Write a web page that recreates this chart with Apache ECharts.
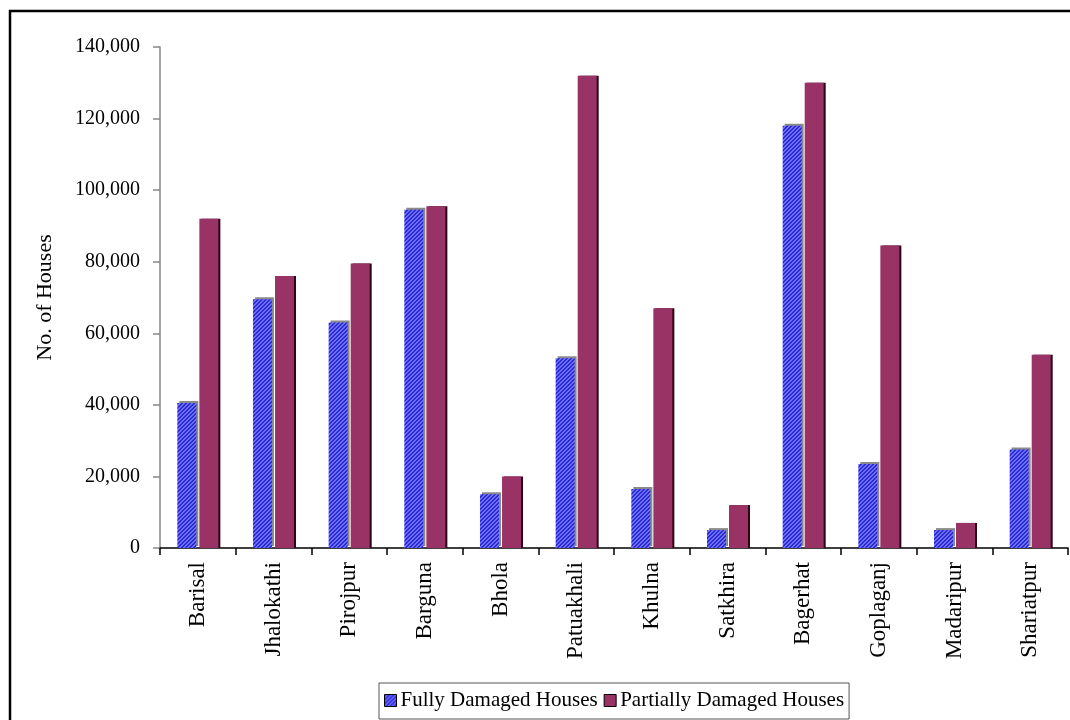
<!DOCTYPE html>
<html>
<head>
<meta charset="utf-8">
<script src="https://cdn.jsdelivr.net/npm/echarts@6/dist/echarts.min.js"></script>
<style>
  html, body { margin: 0; padding: 0; background: #fff; }
  #chart { width: 1070px; height: 720px; }
</style>
</head>
<body>
<div id="chart"></div>
<script>
// Districts and house damage counts
const districts = ['Barisal', 'Jhalokathi', 'Pirojpur', 'Barguna', 'Bhola', 'Patuakhali',
  'Khulna', 'Satkhira', 'Bagerhat', 'Goplaganj', 'Madaripur', 'Shariatpur'];
const fullyDamaged = [40500, 69500, 63000, 94500, 15000, 53000, 16500, 5000, 118000, 23500, 5000, 27500];
const partiallyDamaged = [92000, 76000, 79500, 95500, 20000, 132000, 67000, 12000, 130000, 84500, 7000, 54000];
const seriesNames = ['Fully Damaged Houses', 'Partially Damaged Houses'];
const yTicks = { min: 0, max: 140000, step: 20000 };

const FONT = 'Liberation Serif';

// Diagonal blue hatch used to fill the "fully damaged" bars
function makeHatch() {
  const c = document.createElement('canvas');
  c.width = 4; c.height = 4;
  const ctx = c.getContext('2d');
  for (let x = 0; x < 4; x++) {
    for (let y = 0; y < 4; y++) {
      const k = (x + y) % 4;
      ctx.fillStyle = (k === 0 || k === 1) ? '#2a2ad2' : '#6e6eff';
      ctx.fillRect(x, y, 1, 1);
    }
  }
  return c;
}
const hatch = { image: makeHatch(), repeat: 'repeat' };

const chart = echarts.init(document.getElementById('chart'));
chart.setOption({
  animation: false,
  backgroundColor: '#fff',
  textStyle: { fontFamily: FONT, color: '#000' },
  graphic: [{
    type: 'rect',
    shape: { x: 10, y: 11, width: 1200, height: 900 },
    style: { fill: 'none', stroke: '#000', lineWidth: 2.5 },
    z: -10,
    silent: true
  }],
  grid: { left: 160, right: 2, top: 47, bottom: 172, containLabel: false },
  legend: {
    data: seriesNames,
    top: 683,
    left: 379,
    icon: 'rect',
    itemWidth: 12,
    itemHeight: 12,
    itemGap: 6,
    padding: [7, 5, 8, 5],
    borderColor: '#555',
    borderWidth: 1,
    backgroundColor: '#fff',
    itemStyle: { borderColor: '#000', borderWidth: 1, shadowBlur: 0, shadowOffsetX: 0, shadowOffsetY: 0, shadowColor: 'transparent' },
    textStyle: { fontFamily: FONT, fontSize: 21, color: '#000', padding: [0, 0, 0, -1] }
  },
  xAxis: {
    type: 'category',
    data: districts,
    boundaryGap: true,
    axisLine: { show: true, lineStyle: { color: '#000', width: 1.5 } },
    axisTick: { show: true, length: 7, lineStyle: { color: '#000', width: 1.5 } },
    axisLabel: {
      rotate: 90,
      margin: 14,
      fontFamily: FONT,
      fontSize: 23,
      color: '#000',
      interval: 0
    },
    splitLine: { show: false }
  },
  yAxis: {
    type: 'value',
    min: yTicks.min,
    max: yTicks.max,
    interval: yTicks.step,
    name: 'No. of Houses',
    nameLocation: 'middle',
    nameGap: 104,
    nameTextStyle: { fontFamily: FONT, fontSize: 22, color: '#000' },
    axisLine: { show: true, lineStyle: { color: '#868686', width: 1.5 } },
    axisTick: { show: true, length: 7, lineStyle: { color: '#868686', width: 1.5 } },
    axisLabel: {
      margin: 20,
      fontFamily: FONT,
      fontSize: 20,
      color: '#000',
      formatter: v => v.toLocaleString('en-US')
    },
    splitLine: { show: false }
  },
  series: [
    {
      name: seriesNames[0],
      type: 'bar',
      data: fullyDamaged,
      barWidth: 19,
      barGap: '16%',
      itemStyle: {
        color: hatch,
        shadowColor: '#8a8a8a',
        shadowOffsetX: 2,
        shadowOffsetY: -2,
        shadowBlur: 0
      }
    },
    {
      name: seriesNames[1],
      type: 'bar',
      data: partiallyDamaged,
      barWidth: 19,
      itemStyle: {
        color: '#993366',
        shadowColor: '#2a0616',
        shadowOffsetX: 2,
        shadowOffsetY: 0,
        shadowBlur: 0
      }
    }
  ]
});
</script>
</body>
</html>
